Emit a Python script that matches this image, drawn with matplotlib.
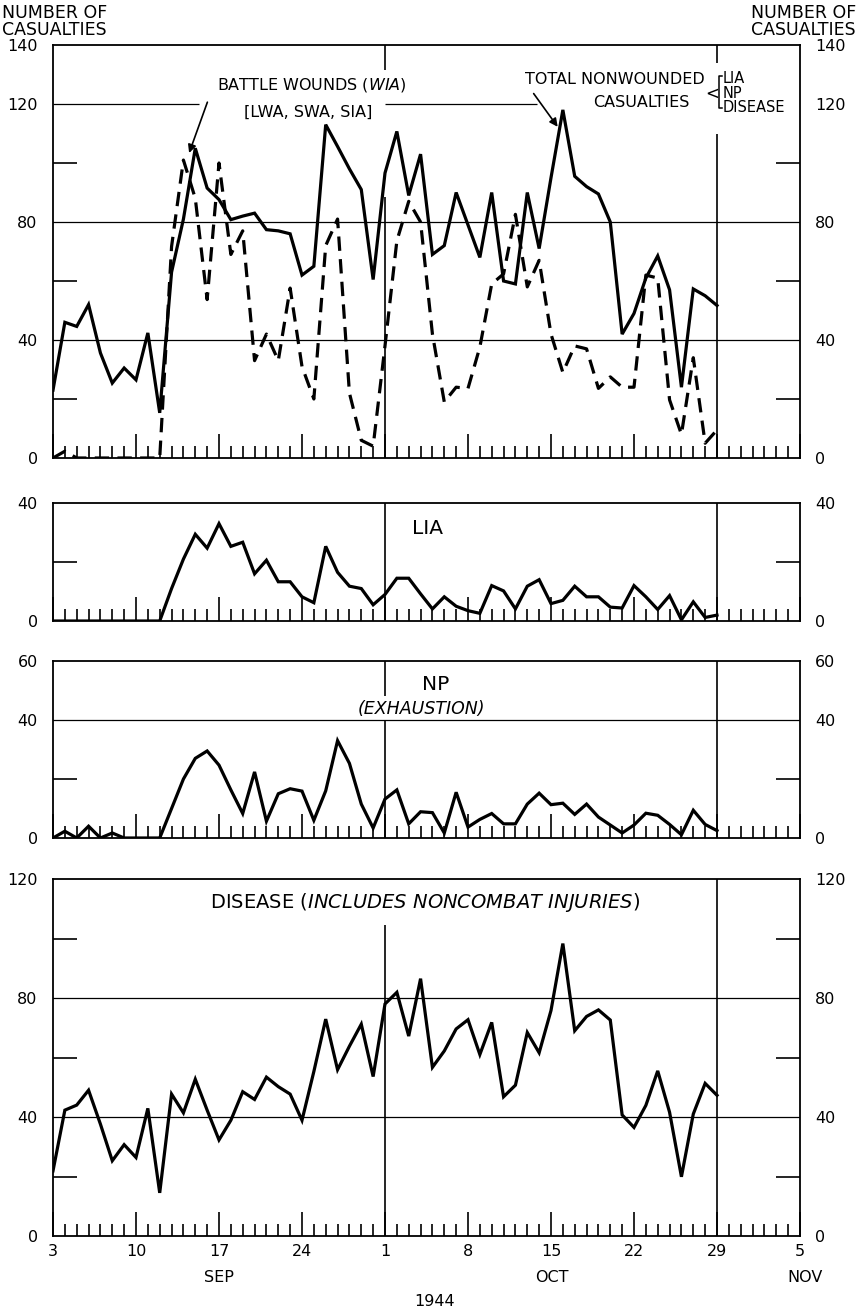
import numpy as np
import matplotlib.pyplot as plt

plt.rcParams['font.family'] = ['DejaVu Sans']

# days counted from 3 Sep 1944 (0) to 29 Oct 1944 (56)
days = np.arange(57)

total_nonwounded = [23, 46, 44.6, 52, 35.6, 25.4, 30.5, 26.5, 42.4, 15.3,
                    63, 81, 105, 91.5, 87.6, 80.8, 82, 83, 77.4, 77,
                    76, 62, 65, 113, 105.6, 98, 91, 60.5, 96.6, 110.7,
                    89, 103, 69, 72, 90, 79, 68, 90, 60, 59,
                    90, 71, 95, 118, 95.5, 92, 89.5, 80, 42, 49,
                    61, 68.5, 57, 24, 57.3, 55, 51.7]
battle_wounds = [0, 2.3, 0, 0, 0, 0, 0, 0, 0, 0,
                 71.7, 101, 88, 53.7, 100, 69, 77, 33, 42, 33,
                 57.6, 31, 20, 72, 81, 22, 6, 4, 38, 73.6,
                 87, 80, 42, 19, 24, 23.6, 37.6, 59, 62.4, 82.6,
                 58, 67, 42, 29, 38, 37, 23.6, 27.5, 24, 24,
                 62, 61, 19.7, 8, 34, 5, 9.5]
lia = [0, 0, 0, 0, 0, 0, 0, 0, 0, 0,
       11, 21, 29.4, 24.7, 33, 25.3, 26.7, 16, 20.6, 13.3,
       13.3, 8.2, 6.2, 25.3, 16.5, 11.8, 11, 5.5, 9, 14.5,
       14.5, 9.2, 4.1, 8.2, 5, 3.5, 2.6, 12, 10.2, 4.1,
       11.8, 14, 5.9, 7, 11.8, 8.2, 8.2, 4.7, 4.4, 12,
       8.2, 3.9, 8.6, 0.4, 6.5, 1.2, 2]
np_exhaustion = [0, 2.3, 0, 4, 0, 1.7, 0, 0, 0, 0,
                 10, 20, 27, 29.5, 24.7, 16.3, 8.3, 22.4, 5.7, 15,
                 16.7, 15.9, 6, 16, 33, 25.3, 11.5, 3.4, 13.2, 16.3,
                 4.8, 8.9, 8.6, 1.7, 15.5, 3.7, 6.3, 8.3, 4.8, 4.8,
                 11.5, 15.2, 11.3, 11.8, 8, 11.5, 7.1, 4.4, 1.7, 4.4,
                 8.4, 7.7, 4.6, 1.1, 9.4, 4.6, 2.5]
disease = [21.9, 42.3, 44, 49, 37.6, 25.3, 30.7, 26.4, 42.9, 14.5,
           47.7, 41.4, 52.7, 42.3, 32.3, 38.9, 48.5, 45.9, 53.4, 50.2,
           47.7, 38.9, 55.3, 72.9, 55.9, 63.8, 71.2, 53.6, 78, 81.9,
           67.2, 86.5, 56.7, 62.2, 69.6, 72.7, 61, 71.8, 46.8, 50.7,
           68.4, 61.6, 75.8, 98.3, 69, 73.8, 76, 72.6, 40.7, 36.5,
           43.9, 55.5, 41.6, 19.9, 41, 51.3, 47.3]

week_days = list(range(0, 64, 7))
week_labels = ['3', '10', '17', '24', '1', '8', '15', '22', '29', '5']

W, H = 858, 1312
fig = plt.figure(figsize=(W / 100, H / 100), dpi=100)


def rect(top, bottom):
    return [53 / W, 1 - bottom / H, 747 / W, (bottom - top) / H]


def setup(ax, ymax, labels, short, grids):
    ax.set_xlim(0, 63)
    ax.set_ylim(0, ymax)
    for s in ax.spines.values():
        s.set_linewidth(1.3)
    ax.set_yticks(labels)
    ax.set_yticklabels([str(v) for v in labels])
    ax.set_yticks(short, minor=True)
    ax.tick_params(axis='y', which='major', length=0, labelsize=11.5, pad=11,
                   left=True, right=True, labelleft=True, labelright=True)
    ax.tick_params(axis='y', which='minor', direction='in', length=17,
                   width=1.2, left=True, right=True)
    ax.set_xticks(week_days)
    ax.set_xticks([d for d in range(1, 63) if d % 7], minor=True)
    ax.tick_params(axis='x', which='major', direction='in', length=17, width=1.2,
                   labelbottom=False)
    ax.tick_params(axis='x', which='minor', direction='in', length=9, width=1.2)
    for g in grids:
        ax.axhline(g, color='black', lw=0.9, zorder=1)


solid = dict(color='black', lw=2.3, zorder=3, solid_joinstyle='miter')
vline = dict(color='black', lw=1.2, zorder=1)

# Panel 1: battle wounds vs total nonwounded
ax1 = fig.add_axes(rect(45, 458))
setup(ax1, 140, [0, 40, 80, 120, 140], [20, 60, 100], [40, 80])
ax1.hlines([120, 120], [0, 28], [12.3, 40.8], color='black', lw=0.9, zorder=1)
ax1.vlines([28, 28], [0, 131.5], [88.5, 140], **vline)
ax1.vlines([56, 56], [0, 134], [110, 140], **vline)
ax1.plot(days, total_nonwounded, **solid)
ax1.plot(days, battle_wounds, color='black', lw=2.3, dashes=(4.5, 2.6), zorder=3)
ax1.text(21.8, 126.5, r'BATTLE WOUNDS $\mathit{(WIA)}$', ha='center', va='center',
         fontsize=11.5)
ax1.text(21.5, 117.3, '[LWA, SWA, SIA]', ha='center', va='center', fontsize=11.5)
ax1.annotate('', xy=(11.4, 102.5), xytext=(13.1, 121.5),
             arrowprops=dict(arrowstyle='-|>', color='black', lw=1.2,
                             mutation_scale=12))
ax1.text(47.4, 128.3, 'TOTAL NONWOUNDED', ha='center', va='center', fontsize=11.5)
ax1.text(49.6, 120.6, 'CASUALTIES', ha='center', va='center', fontsize=11.5)
ax1.annotate('', xy=(42.7, 111.5), xytext=(40.4, 124.3),
             arrowprops=dict(arrowstyle='-|>', color='black', lw=1.2,
                             mutation_scale=12))
ax1.text(55.6, 123.3, '<', ha='center', va='center', fontsize=12)
ax1.plot([56.45, 56.15, 56.15, 56.45], [129.5, 129.5, 118.6, 118.6],
         color='black', lw=1.1)
ax1.text(56.5, 123.6, 'LIA\nNP\nDISEASE', ha='left', va='center', fontsize=10.5,
         linespacing=0.95)

# Panel 2: LIA
ax2 = fig.add_axes(rect(503, 621))
setup(ax2, 40, [0, 40], [20], [])
ax2.axvline(28, **vline)
ax2.axvline(56, **vline)
ax2.plot(days, lia, **solid)
ax2.text(31.6, 31.3, 'LIA', ha='center', va='center', fontsize=14.5)

# Panel 3: NP
ax3 = fig.add_axes(rect(661, 838))
setup(ax3, 60, [0, 40, 60], [20], [40])
ax3.vlines([28, 28], [0, 48], [39.5, 60], **vline)
ax3.axvline(56, **vline)
ax3.plot(days, np_exhaustion, **solid)
ax3.text(32.3, 52, 'NP', ha='center', va='center', fontsize=14.5)
ax3.text(31.1, 43.8, '(EXHAUSTION)', ha='center', va='center', fontsize=12.5,
         style='italic', bbox=dict(facecolor='white', edgecolor='none', pad=1))

# Panel 4: disease
ax4 = fig.add_axes(rect(879, 1236))
setup(ax4, 120, [0, 40, 80, 120], [20, 60, 100], [40, 80])
ax4.vlines(28, 0, 104.5, **vline)
ax4.axvline(56, **vline)
ax4.plot(days, disease, **solid)
ax4.text(31.4, 112.2, r'DISEASE $\mathit{(INCLUDES\ NONCOMBAT\ INJURIES)}$',
         ha='center', va='center', fontsize=14)
ax4.set_xticklabels(week_labels)
ax4.tick_params(axis='x', which='major', labelbottom=True, labelsize=11.5, pad=6)

# header and date labels
fig.text(2 / W, 1 - 4 / H, 'NUMBER OF\nCASUALTIES', ha='left', va='top',
         fontsize=12.5, linespacing=0.9)
fig.text(856 / W, 1 - 4 / H, 'NUMBER OF\nCASUALTIES', ha='right', va='top',
         fontsize=12.5, linespacing=0.9, multialignment='right')
for name, px in [('SEP', 219), ('OCT', 552), ('NOV', 805)]:
    fig.text(px / W, 1 - 1277 / H, name, ha='center', va='center', fontsize=11.5)
fig.text(435 / W, 1 - 1302 / H, '1944', ha='center', va='center', fontsize=11.5)

fig.savefig('out.png', dpi=100)
